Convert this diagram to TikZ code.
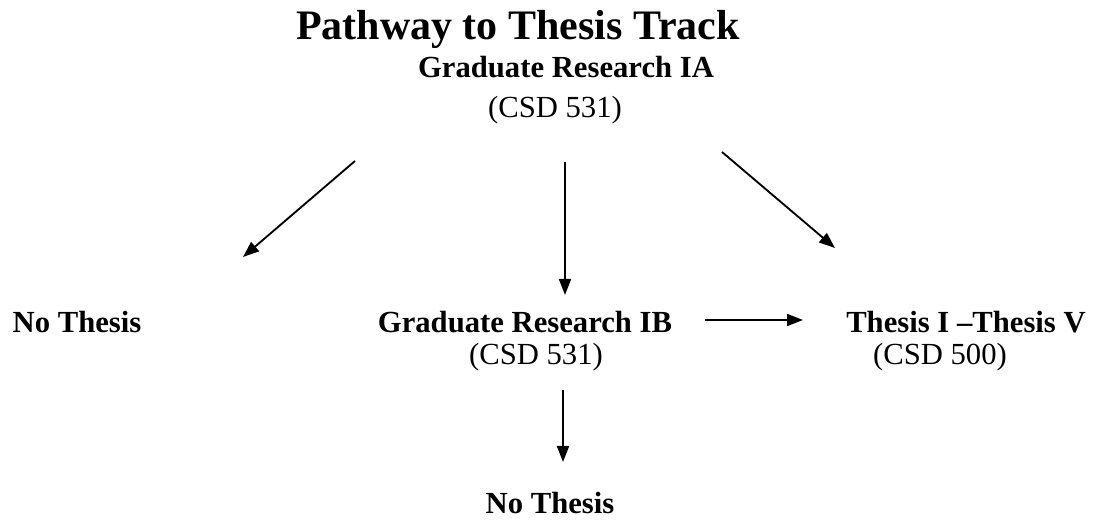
\documentclass[tikz,border=0pt]{standalone}
\usepackage{fontspec}
\setmainfont{Liberation Serif}
\usetikzlibrary{
  arrows.meta,
  positioning,
}
\tikzstyle{arrow} = [
  -{Triangle[length=12pt,width=9pt]},
  line width=1.4pt,
]
\tikzstyle{course} = [
  inner sep=0pt,
  anchor=base,
  font=\fontsize{23}{26}\selectfont\bfseries,
]
\tikzstyle{code} = [
  inner sep=0pt,
  anchor=base,
  font=\fontsize{23}{26}\selectfont,
]

\begin{document}
\begin{tikzpicture}[x=0.75pt,y=-0.75pt]

        \useasboundingbox (0,0) rectangle (1100,523);

        \node[inner sep=0pt,anchor=base,font=\fontsize{31.5}{36}\selectfont\bfseries] (title) at (518,40) {Pathway to Thesis Track};

        \node[course] (resIA) at (566,78) {Graduate Research IA};
        \node[code] (csdIA) at (555,118) {(CSD 531)};

        \node[course] (noleft) at (77,333) {No Thesis};
        \node[course] (resIB) at (525,333) {Graduate Research IB};
        \node[course] (thesis) at (966,333) {Thesis I \textendash Thesis V};
        \node[code] (csdIB) at (536,365) {(CSD 531)};
        \node[code] (csdth) at (940,365) {(CSD 500)};
        \node[course] (nobottom) at (550,514) {No Thesis};

        % arrow ends
        \coordinate (a1) at (355,161);
        \coordinate (a2) at (243,257);
        \coordinate (b1) at (565,162);
        \coordinate (b2) at (565,295);
        \coordinate (c1) at (722,152);
        \coordinate (c2) at (835,248);
        \coordinate (d1) at (705,320);
        \coordinate (d2) at (803,320);
        \coordinate (e1) at (563,390);
        \coordinate (e2) at (563,462);

        \draw[arrow] (a1) -- (a2);
        \draw[arrow] (b1) -- (b2);
        \draw[arrow] (c1) -- (c2);
        \draw[arrow] (d1) -- (d2);
        \draw[arrow] (e1) -- (e2);

\end{tikzpicture}
\end{document}
